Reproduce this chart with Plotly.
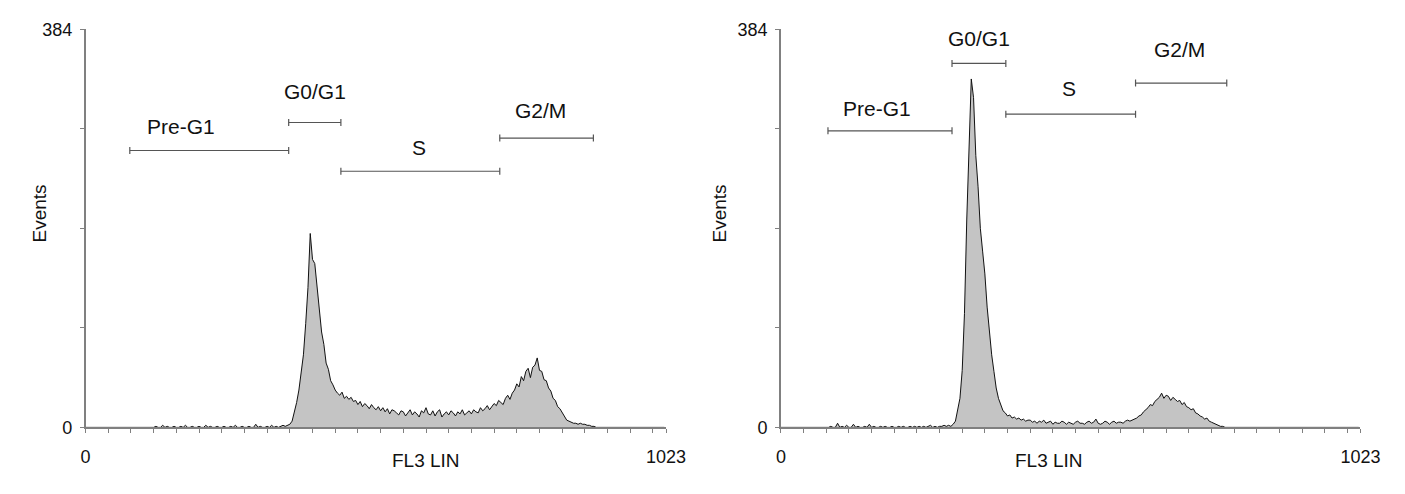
import plotly.graph_objects as go

W, H = 1405, 494

# ---------------- data ----------------
channel_step = 4  # histogram channel spacing of the listed counts

left_counts = (
    [0] * 30
    + [0, 1, 0, 0, 2, 0, 1, 0, 0, 1,
       0, 0, 1, 0, 2, 0, 0, 1, 0, 0,
       1, 0, 0, 2, 0, 1, 0, 0, 1, 0,
       0, 1, 0, 0, 1, 0, 2, 0, 0, 1,
       0, 0, 1, 0, 0, 3, 0, 1, 0, 0,
       1, 0, 2, 0, 1, 0, 1, 2, 1, 2]
    + [3, 6, 14, 24, 36, 52, 70, 100, 135, 187,
       162, 158, 138, 118, 92, 80, 62, 56, 45, 41,
       36, 33, 31, 34, 28, 30, 27, 29, 25, 26,
       22, 25, 20, 23, 21, 18, 22, 19, 17, 20,
       16, 19, 15, 18, 13, 17, 16, 14, 12, 16,
       15, 11, 14, 17, 12, 15, 13, 10, 16, 14,
       19, 13, 12, 16, 11, 15, 17, 10, 13, 15,
       12, 16, 14, 11, 15, 13, 17, 12, 14, 16,
       13, 17, 15, 14, 19, 16, 18, 21, 17, 20,
       23, 21, 26, 24, 22, 28, 31, 27, 33, 36,
       42, 39, 49, 45, 54, 57, 48, 58, 60, 67,
       55, 54, 46, 45, 38, 35, 28, 26, 20, 18,
       14, 10, 7, 6, 5, 4, 4, 3, 4, 3,
       3, 2, 2, 1, 1]
)
left_counts = left_counts + [0] * (256 - len(left_counts))

right_counts = (
    [0] * 21
    + [0, 1, 0, 0, 4, 0, 1, 0, 2, 0,
       0, 3, 0, 1, 0, 0, 1, 0, 3, 0,
       1, 0, 0, 1, 0, 1, 0, 0, 1, 0,
       0, 1, 0, 1, 0, 0, 1, 0, 1, 0,
       1, 0, 1, 0, 1, 2, 0, 1, 0, 1,
       1, 2, 1, 2, 1, 3]
    + [6, 16, 28, 55, 110, 200, 275, 336, 318, 262,
       232, 192, 170, 148, 116, 92, 70, 54, 38, 28,
       22, 16, 14, 11, 12, 9, 10, 8, 9, 7,
       8, 6, 7, 7, 5, 6, 4, 6, 5, 7,
       4, 5, 6, 3, 5, 4, 4, 6, 5, 3,
       5, 4, 3, 5, 6, 4, 4, 3, 5, 6,
       4, 5, 8, 4, 3, 4, 6, 5, 3, 5,
       6, 4, 5, 5, 4, 6, 7, 6, 7, 8,
       9, 11, 12, 15, 17, 19, 22, 21, 25, 27,
       29, 33, 28, 31, 30, 26, 29, 27, 25, 26,
       22, 24, 20, 19, 17, 18, 14, 13, 11, 10,
       8, 9, 6, 5, 4, 3, 2, 1, 1]
)
right_counts = right_counts + [0] * (256 - len(right_counts))

channels = [i * channel_step for i in range(256)]

gate_names = ["Pre-G1", "G0/G1", "S", "G2/M"]

left_gate_start = [78, 358, 450, 730]
left_gate_end = [358, 450, 730, 895]
left_gate_level = [267, 294, 247, 279]
left_label_x = [168, 405, 588, 801]
left_label_y = [290, 324, 270, 306]

right_gate_start = [83, 302, 397, 626]
right_gate_end = [302, 397, 626, 787]
right_gate_level = [286, 351, 302, 332]
right_label_x = [170, 350, 508, 704]
right_label_y = [308, 375, 327, 364]

x_max = 1023
y_max = 384
x_tick_vals = list(range(0, 1001, 40)) + [1023]
x_tick_text = ["0"] + [""] * 25 + ["1023"]
y_tick_vals = [0, 96, 192, 288, 384]
y_tick_text = ["0", "", "", "", "384"]

# ---------------- figure ----------------
FONT = "Liberation Sans, Arial, sans-serif"
AXIS_COL = "#808080"
GATE_COL = "#555555"

fig = go.Figure()

panels = [
    ("x", "y", left_counts, left_gate_start, left_gate_end, left_gate_level,
     left_label_x, left_label_y),
    ("x2", "y2", right_counts, right_gate_start, right_gate_end, right_gate_level,
     right_label_x, right_label_y),
]

for xa, ya, counts, gs, ge, gl, lx, ly in panels:
    fig.add_trace(go.Scatter(
        x=channels, y=counts, xaxis=xa, yaxis=ya, mode="lines",
        line=dict(color="#111111", width=1), fill="tozeroy",
        fillcolor="#c4c4c4", showlegend=False, hoverinfo="skip"))
    for name, s, e, lev, tx, ty in zip(gate_names, gs, ge, gl, lx, ly):
        fig.add_trace(go.Scatter(
            x=[s, e], y=[lev, lev], xaxis=xa, yaxis=ya, mode="lines+markers",
            line=dict(color=GATE_COL, width=1.2),
            marker=dict(symbol="line-ns", size=5, line=dict(color=GATE_COL, width=1.2)),
            showlegend=False, hoverinfo="skip"))
        fig.add_annotation(
            x=tx, y=ty, xref=xa, yref=ya, text=name, showarrow=False,
            yanchor="middle",
            font=dict(family=FONT, size=21, color="#111111"))

def xaxis_cfg(d0, d1, anchor):
    return dict(
        domain=[d0 / W, d1 / W], range=[0, x_max], anchor=anchor,
        showline=True, linecolor=AXIS_COL, linewidth=1.5,
        ticks="outside", ticklen=4, tickcolor=AXIS_COL, tickwidth=1,
        tickmode="array", tickvals=x_tick_vals, ticktext=x_tick_text,
        ticklabelstandoff=8,
        showgrid=False, zeroline=False,
        tickfont=dict(family=FONT, size=18, color="#111111"))

def yaxis_cfg(anchor):
    return dict(
        domain=[(H - 435) / H, (H - 20) / H], range=[0, y_max], anchor=anchor,
        showline=True, linecolor=AXIS_COL, linewidth=1.5,
        ticks="outside", ticklen=4, tickcolor=AXIS_COL, tickwidth=1,
        tickmode="array", tickvals=y_tick_vals, ticktext=y_tick_text,
        ticklabelstandoff=4,
        showgrid=False, zeroline=False,
        tickfont=dict(family=FONT, size=18, color="#111111"))

fig.update_layout(
    width=W, height=H,
    margin=dict(l=0, r=0, t=0, b=0),
    paper_bgcolor="white", plot_bgcolor="white",
    xaxis=xaxis_cfg(82, 673, "y"),
    yaxis=yaxis_cfg("x"),
    xaxis2=xaxis_cfg(790, 1380, "y2"),
    yaxis2=yaxis_cfg("x2"),
)

# axis titles
for xc in [392, 1100]:
    fig.add_annotation(x=xc / W, y=(H - 483) / H, xref="paper", yref="paper",
                       text="FL3 LIN", showarrow=False,
                       font=dict(family=FONT, size=19, color="#111111"))
for xc in [22, 727]:
    fig.add_annotation(x=xc / W, y=(H - 212) / H, xref="paper", yref="paper",
                       text="Events", showarrow=False, textangle=-90,
                       font=dict(family=FONT, size=19, color="#111111"))

fig.write_html("out.html",
               post_script="document.body.style.margin='0';document.body.style.overflow='hidden';")
